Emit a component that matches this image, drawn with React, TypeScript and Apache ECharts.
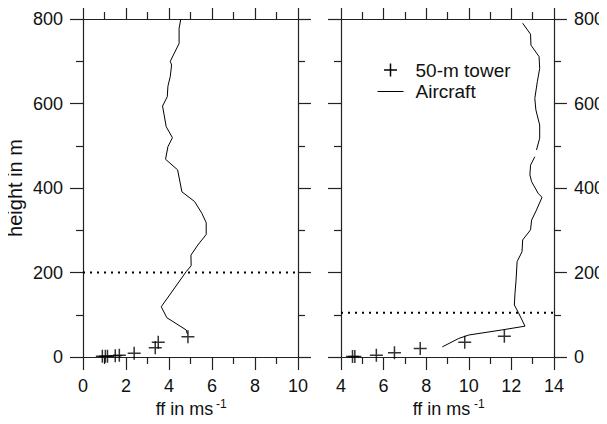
import React, { useEffect, useRef } from "react";
import * as echarts from "echarts";

// ---- data ----
const leftXTicks = [0, 2, 4, 6, 8, 10];
const rightXTicks = [4, 6, 8, 10, 12, 14];
const heightTicks = [0, 200, 400, 600, 800];

// left panel: aircraft profile [ff, height]
const leftAircraft: [number, number][] = [
  [4.85, 55], [4.8, 64], [3.9, 93], [3.64, 119], [4.8, 202], [5.03, 216],
  [5.02, 241], [5.34, 265], [5.73, 290], [5.73, 318], [5.53, 340], [5.19, 368],
  [4.6, 391], [4.4, 443], [3.84, 468], [3.95, 498], [4.16, 519], [3.87, 545],
  [3.7, 594], [3.92, 616], [3.95, 641], [4.06, 664], [4.12, 691], [4.06, 700],
  [4.47, 742], [4.47, 778], [4.55, 800],
];
// left panel: 50-m tower
const leftTower: [number, number][] = [
  [0.9, 2], [1.04, 2], [1.14, 2], [1.5, 3], [1.69, 4], [2.38, 9],
  [3.36, 22], [3.5, 35], [4.88, 48],
];
const leftBlh = 200;

// right panel: aircraft profile (two segments, gap between)
const rightAircraftLower: [number, number][] = [
  [8.76, 24], [9.53, 44], [10.0, 52], [11.55, 64], [12.64, 73], [12.33, 105],
  [12.14, 123], [12.17, 151], [12.22, 182], [12.27, 226], [12.5, 249],
  [12.53, 277], [12.9, 301], [12.95, 324], [13.18, 348], [13.44, 378],
  [13.26, 387], [12.95, 415], [12.87, 431], [12.9, 454], [13.1, 474],
];
const rightAircraftUpper: [number, number][] = [
  [13.18, 490], [13.33, 518], [13.33, 549], [13.15, 585], [13.1, 612],
  [13.22, 652], [13.33, 683], [13.3, 711], [12.92, 738], [12.9, 764], [12.53, 790],
];
const rightTower: [number, number][] = [
  [4.54, 1], [4.65, 1], [5.66, 4], [6.51, 10], [7.72, 20], [9.81, 35], [11.67, 49],
];
const rightBlh = 105;

const legendLabels = ["50-m tower", "Aircraft"];
const xTitle = "ff in ms";
const xTitleSup = "-1";
const yTitle = "height in m";

const FONT = "Liberation Sans, Arial, Helvetica, sans-serif";
const FS = 18;
const AX = "#222";
const PLUS = "path://M7,0 L7,14 M0,7 L14,7";

export default function App() {
  const ref = useRef<HTMLDivElement>(null);
  useEffect(() => {
    if (!ref.current) return;
    const chart = echarts.init(ref.current, null, { renderer: "svg" });

    const axisCommon = {
      type: "value" as const,
      axisLine: { show: true, onZero: false, lineStyle: { color: AX, width: 1.2 } },
      axisTick: { show: true, inside: false, length: 13, lineStyle: { color: AX, width: 1.2 } },
      minorTick: { show: true, splitNumber: 2, length: 7, lineStyle: { color: AX, width: 1.2 } },
      splitLine: { show: false },
      minorSplitLine: { show: false },
    };
    const labelStyle = { color: "#111", fontSize: FS, fontFamily: FONT };

    const xName = {
      name: xTitle,
      nameLocation: "middle" as const,
      nameGap: 40,
      nameTextStyle: {
        fontSize: FS,
        fontFamily: FONT,
        color: "#111",
        padding: [0, 12, 0, 0],
      },
    };

    const mkX = (grid: number, pos: "bottom" | "top", ticks: number[], show: boolean, named: boolean) => ({
      ...axisCommon,
      gridIndex: grid,
      position: pos,
      min: ticks[0],
      max: ticks[ticks.length - 1],
      interval: ticks[1] - ticks[0],
      axisLabel: { show, margin: 20, ...labelStyle },
      ...(named ? xName : {}),
    });
    const mkY = (grid: number, pos: "left" | "right", show: boolean, named: boolean) => ({
      ...axisCommon,
      gridIndex: grid,
      position: pos,
      min: heightTicks[0],
      max: heightTicks[heightTicks.length - 1],
      interval: heightTicks[1] - heightTicks[0],
      axisLabel: { show, margin: 20, ...labelStyle },
      ...(named
        ? {
            name: yTitle,
            nameLocation: "middle" as const,
            nameGap: 58,
            nameTextStyle: { fontSize: 20, fontFamily: FONT, color: "#111" },
          }
        : {}),
    });

    const lineSeries = (data: [number, number][], xi: number, yi: number) => ({
      type: "line" as const,
      xAxisIndex: xi,
      yAxisIndex: yi,
      data,
      symbol: "none",
      lineStyle: { color: "#000", width: 1 },
      silent: true,
    });
    const towerSeries = (data: [number, number][], xi: number, yi: number) => ({
      type: "scatter" as const,
      xAxisIndex: xi,
      yAxisIndex: yi,
      data,
      symbol: PLUS,
      symbolSize: 13,
      itemStyle: { color: "rgba(0,0,0,0)", borderColor: "#000", borderWidth: 1.5 },
      silent: true,
    });
    const blhSeries = (h: number, ticks: number[], xi: number, yi: number) => ({
      type: "line" as const,
      xAxisIndex: xi,
      yAxisIndex: yi,
      data: [
        [ticks[0], h],
        [ticks[ticks.length - 1], h],
      ],
      symbol: "none",
      lineStyle: { color: "#000", width: 2, type: [2, 5] },
      silent: true,
    });

    const supText = (x: number) => ({
      type: "text",
      x,
      y: 398,
      style: { text: xTitleSup, font: `12px ${FONT}`, fill: "#111" },
    });

    chart.setOption({
      animation: false,
      backgroundColor: "#fff",
      textStyle: { fontFamily: FONT },
      grid: [
        { left: 83, top: 19, width: 215, height: 338 },
        { left: 341, top: 19, width: 215, height: 338 },
      ],
      xAxis: [
        mkX(0, "bottom", leftXTicks, true, true),
        mkX(0, "top", leftXTicks, false, false),
        mkX(1, "bottom", rightXTicks, true, true),
        mkX(1, "top", rightXTicks, false, false),
      ],
      yAxis: [
        mkY(0, "left", true, true),
        mkY(0, "right", false, false),
        mkY(1, "left", false, false),
        mkY(1, "right", true, false),
      ],
      series: [
        lineSeries(leftAircraft, 0, 0),
        towerSeries(leftTower, 0, 0),
        blhSeries(leftBlh, leftXTicks, 0, 0),
        lineSeries(rightAircraftLower, 2, 2),
        lineSeries(rightAircraftUpper, 2, 2),
        towerSeries(rightTower, 2, 2),
        blhSeries(rightBlh, rightXTicks, 2, 2),
      ],
      graphic: [
        supText(216),
        supText(474),
        {
          type: "group",
          left: 375,
          top: 61,
          children: [
            { type: "line", shape: { x1: 13, y1: 0, x2: 13, y2: 13 }, style: { stroke: "#000", lineWidth: 1.5 } },
            { type: "line", shape: { x1: 6.5, y1: 6.5, x2: 19.5, y2: 6.5 }, style: { stroke: "#000", lineWidth: 1.5 } },
            { type: "line", shape: { x1: 0, y1: 28, x2: 26, y2: 28 }, style: { stroke: "#000", lineWidth: 1 } },
            {
              type: "text",
              x: 38,
              y: 7,
              style: { text: legendLabels[0], font: `19px ${FONT}`, fill: "#111", verticalAlign: "middle" },
            },
            {
              type: "text",
              x: 38,
              y: 28,
              style: { text: legendLabels[1], font: `19px ${FONT}`, fill: "#111", verticalAlign: "middle" },
            },
          ],
        },
      ],
    });
    return () => chart.dispose();
  }, []);
  return <div ref={ref} style={{ width: 607, height: 424, margin: -8 }} />;
}
